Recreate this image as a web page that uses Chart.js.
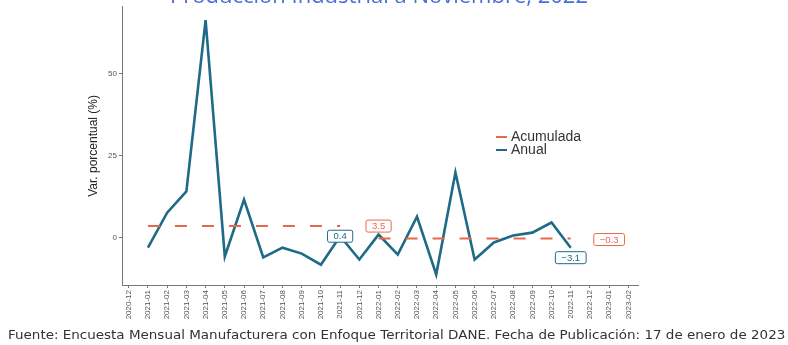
<!DOCTYPE html>
<html>
<head>
<meta charset="utf-8">
<script src="https://cdn.jsdelivr.net/npm/chart.js@4.4.1/dist/chart.umd.min.js"></script>
<style>
  html, body { margin: 0; padding: 0; background: #fff; }
  #wrap { position: relative; width: 788px; height: 345px; overflow: hidden; }
  #titulo {
    position: absolute; left: 0; width: 758px; top: -21px;
    text-align: center; font: 22px "Open Sans", sans-serif; color: #4a6fd8;
  }
  #fuente {
    position: absolute; left: 8px; top: 328px;
    font: 12px "DejaVu Sans", sans-serif; color: #333;
    white-space: nowrap; transform-origin: 0 0;
  }
  #leyenda {
    position: absolute; left: 496px; top: 130px;
    font: 14px "Liberation Sans", Arial, sans-serif; color: #333; line-height: 13px;
  }
  #leyenda .fila { display: flex; align-items: center; }
  #leyenda .muestra { width: 11px; height: 0; border-top: 2.5px solid; margin-right: 4px; }
</style>
</head>
<body>
<div id="wrap">
  <canvas id="grafico" width="788" height="345"></canvas>
  <div id="titulo">Producción Industrial a Noviembre, 2022</div>
  <div id="leyenda"></div>
  <div id="fuente">Fuente: Encuesta Mensual Manufacturera con Enfoque Territorial DANE. Fecha de Publicación: 17 de enero de 2023</div>
</div>
<script>
// meses del eje x
const meses = ['2020-12', '2021-01', '2021-02', '2021-03', '2021-04', '2021-05', '2021-06',
  '2021-07', '2021-08', '2021-09', '2021-10', '2021-11', '2021-12', '2022-01', '2022-02',
  '2022-03', '2022-04', '2022-05', '2022-06', '2022-07', '2022-08', '2022-09', '2022-10',
  '2022-11', '2022-12', '2023-01', '2023-02'];

// variacion anual (%) desde 2021-01
const anual = [-3.1, 7.6, 14.1, 66.4, -5.8, 11.6, -6.1, -3.1, -4.9, -8.3, 0.4,
  -6.7, 0.9, -5.2, 6.4, -11.3, 19.9, -6.7, -1.5, 0.6, 1.5, 4.6, -3.1];

// variacion acumulada (%), 2021-12 sin dato
const acumulada = [3.5, 3.5, 3.5, 3.5, 3.5, 3.5, 3.5, 3.5, 3.5, 3.5, 3.5,
  null, -0.3, -0.3, -0.3, -0.3, -0.3, -0.3, -0.3, -0.3, -0.3, -0.3, -0.3];

const yTicks = [0, 25, 50];

// etiquetas de valor: serie, mes, desplazamiento en meses y en px
const etiquetas = [
  { serie: 0, mes: '2021-11', dx: 2, dy: 0 },
  { serie: 0, mes: '2022-11', dx: 2, dy: 1 },
  { serie: 1, mes: '2021-11', dx: 0, dy: 0 },
  { serie: 1, mes: '2022-11', dx: 0, dy: 10 }
];

const colAcum = '#e8694a';
const colAnual = '#1e6a87';
const inicio = meses.indexOf('2021-01');

function puntos(vals) {
  return vals.map((v, i) => ({ x: inicio + i, y: v }));
}

function fmt(v) {
  return (v < 0 ? '\u2212' : '') + Math.abs(v).toFixed(1);
}

const etiquetasPlugin = {
  id: 'etiquetas',
  afterDatasetsDraw(chart) {
    const ctx = chart.ctx;
    const xs = chart.scales.x, ys = chart.scales.y;
    ctx.save();
    ctx.font = '9.5px "Liberation Sans", Arial, sans-serif';
    ctx.textAlign = 'center';
    ctx.textBaseline = 'middle';
    etiquetas.forEach(e => {
      const ds = chart.data.datasets[e.serie];
      const i = meses.indexOf(e.mes) - inicio;
      const v = ds.data[i].y;
      const txt = fmt(v);
      const x = xs.getPixelForValue(meses.indexOf(e.mes) + e.dx);
      const y = ys.getPixelForValue(v) + e.dy;
      const w = ctx.measureText(txt).width + 12;
      const h = 12;
      ctx.beginPath();
      ctx.roundRect(x - w / 2, y - h / 2, w, h, 2);
      ctx.fillStyle = '#fff';
      ctx.fill();
      ctx.lineWidth = 1;
      ctx.strokeStyle = ds.borderColor;
      ctx.stroke();
      ctx.fillStyle = ds.borderColor;
      ctx.fillText(txt, x, y + 0.5);
    });
    ctx.restore();
  }
};

const chart = new Chart(document.getElementById('grafico'), {
  type: 'line',
  data: {
    datasets: [
      {
        label: 'Acumulada',
        data: puntos(acumulada),
        borderColor: colAcum,
        borderWidth: 2,
        borderDash: [12, 15],
        pointRadius: 0,
        spanGaps: false
      },
      {
        label: 'Anual',
        data: puntos(anual),
        borderColor: colAnual,
        borderWidth: 2.6,
        pointRadius: 0,
        tension: 0
      }
    ]
  },
  options: {
    responsive: false,
    animation: false,
    layout: { padding: { left: 80, right: 150, top: 6, bottom: 0 } },
    plugins: {
      legend: { display: false },
      tooltip: { enabled: false }
    },
    scales: {
      x: {
        type: 'linear',
        min: -0.35,
        max: 26.5,
        afterFit(s) { s.height = 60; },
        border: { display: true, color: '#777', width: 1 },
        grid: { display: true, drawOnChartArea: false, drawTicks: true, tickLength: 3, color: '#777' },
        ticks: {
          stepSize: 1,
          autoSkip: false,
          includeBounds: false,
          minRotation: 90,
          maxRotation: 90,
          padding: 2,
          color: '#555',
          font: { family: '"Liberation Sans", Arial, sans-serif', size: 8 },
          callback: v => meses[v] || ''
        }
      },
      y: {
        min: -14.5,
        max: 70.5,
        afterFit(s) { s.width = 42; },
        afterBuildTicks(s) { s.ticks = yTicks.map(v => ({ value: v })); },
        border: { display: true, color: '#777', width: 1 },
        grid: { display: true, drawOnChartArea: false, drawTicks: true, tickLength: 3, color: '#777' },
        title: {
          display: true,
          text: 'Var. porcentual (%)',
          color: '#222',
          padding: { top: 6, bottom: 0 },
          font: { family: '"Liberation Sans", Arial, sans-serif', size: 12 }
        },
        ticks: {
          padding: 2,
          color: '#555',
          font: { family: '"Liberation Sans", Arial, sans-serif', size: 8 }
        }
      }
    }
  },
  plugins: [etiquetasPlugin]
});

// leyenda
const ley = document.getElementById('leyenda');
chart.data.datasets.forEach(ds => {
  const fila = document.createElement('div');
  fila.className = 'fila';
  const m = document.createElement('span');
  m.className = 'muestra';
  m.style.borderColor = ds.borderColor;
  fila.appendChild(m);
  fila.appendChild(document.createTextNode(ds.label));
  ley.appendChild(fila);
});

// fuente a lo ancho de la figura
const fuente = document.getElementById('fuente');
fuente.style.transform = 'scaleX(' + (777 / fuente.offsetWidth) + ')';
</script>
</body>
</html>
